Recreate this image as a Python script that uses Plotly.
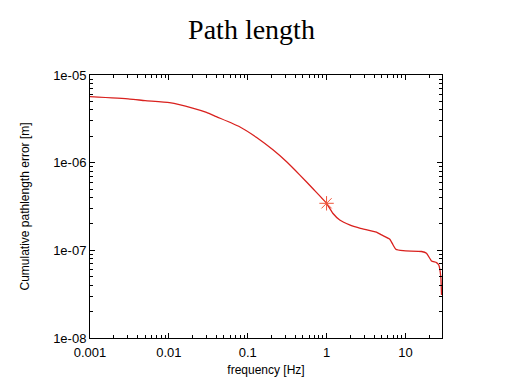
import plotly.graph_objects as go

freq = [0.001, 0.0032, 0.005, 0.0102, 0.020, 0.030, 0.040, 0.0789, 0.1285, 0.209, 0.309, 0.456, 0.673, 1.0,
        1.20, 1.47, 1.96, 2.63, 4.29, 4.97, 6.34, 6.98, 7.56, 9.35, 16.0, 18.5, 21.4,
        24.8, 26.5, 28.1, 28.7]
err = [5.66e-6, 5.32e-6, 5.1e-6, 4.83e-6, 4.2e-6, 3.75e-6, 3.35e-6, 2.57e-6, 1.95e-6, 1.40e-6, 1.03e-6, 7.26e-7, 5.04e-7, 3.44e-7,
       2.65e-7, 2.22e-7, 1.95e-7, 1.79e-7, 1.61e-7, 1.50e-7, 1.34e-7, 1.15e-7, 1.03e-7, 9.9e-8, 9.7e-8, 9.27e-8, 7.57e-8,
       7.25e-8, 6.8e-8, 5.0e-8, 3.1e-8]
marker_freq = [1.0]
marker_err = [3.44e-7]

x_tickvals = [0.001, 0.01, 0.1, 1, 10]
x_ticktext = ["0.001", "0.01", "0.1", "1", "10"]
y_tickvals = [1e-8, 1e-7, 1e-6, 1e-5]
y_ticktext = ["1e-08", "1e-07", "1e-06", "1e-05"]

fig = go.Figure()
fig.add_trace(go.Scatter(x=freq, y=err, mode="lines",
                         line=dict(color="#d9211e", width=1.3, shape="spline", smoothing=0.5),
                         showlegend=False))
fig.add_trace(go.Scatter(x=marker_freq, y=marker_err, mode="markers",
                         marker=dict(symbol="asterisk-open", size=12,
                                     line=dict(color="#f5a8a8", width=1)),
                         showlegend=False))

axis_common = dict(showline=True, linecolor="black", linewidth=1, mirror="ticks",
                   ticks="inside", ticklen=5, tickcolor="black", showgrid=False, zeroline=False,
                   tickfont=dict(family="Liberation Sans, Arial, sans-serif", size=13, color="black"),
                   minor=dict(ticks="inside", ticklen=3, tickcolor="black", dtick="D1", showgrid=False))

fig.update_xaxes(type="log", range=[-3, 1.464], tickvals=x_tickvals, ticktext=x_ticktext,
                 ticklabelstandoff=2,
                 title=dict(text="frequency [Hz]", standoff=7,
                            font=dict(family="Liberation Sans, Arial, sans-serif", size=12, color="black")),
                 **axis_common)
fig.update_yaxes(type="log", range=[-8, -5], tickvals=y_tickvals, ticktext=y_ticktext,
                 title=dict(text="Cumulative pathlength error [m]", standoff=20,
                            font=dict(family="Liberation Sans, Arial, sans-serif", size=12, color="black")),
                 **axis_common)

fig.update_layout(
    width=512, height=384,
    margin=dict(l=82, r=78, t=67, b=54),
    paper_bgcolor="white", plot_bgcolor="white",
    title=dict(text="Path length", x=0.4756, xanchor="center", y=0.946, yanchor="middle",
               font=dict(family="Liberation Serif, Times New Roman, serif", size=28, color="black")),
)

fig.write_html("out.html")
